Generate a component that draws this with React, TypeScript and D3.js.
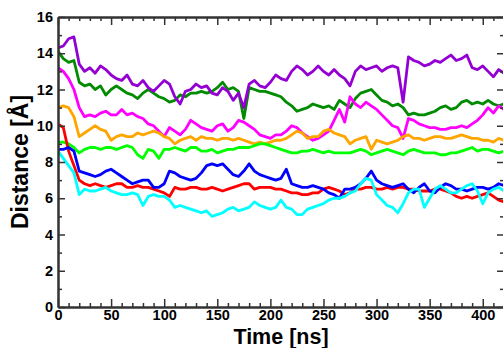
import React, { useEffect, useRef } from 'react';
import * as d3 from 'd3';

// time axis in ns, one reading every 5 ns
const time = d3.range(0, 421, 5);

const violet = [14.3, 14.4, 14.8, 14.9, 13.4, 13.0, 13.2, 12.9, 13.3, 13.1, 12.8, 12.6, 12.5, 12.8, 12.3, 12.2, 12.5, 12.1, 11.9, 12.2, 12.5, 12.3, 11.6, 11.2, 11.9, 12.0, 12.3, 12.1, 12.2, 11.8, 11.7, 12.1, 11.9, 11.4, 11.8, 11.0, 12.3, 12.5, 12.2, 12.1, 12.4, 12.8, 12.6, 12.5, 13.0, 13.3, 13.1, 12.8, 13.0, 13.3, 13.0, 12.8, 13.1, 12.8, 12.6, 12.2, 13.0, 13.3, 13.1, 13.2, 13.3, 13.0, 13.2, 13.3, 13.2, 11.3, 13.8, 13.6, 13.5, 13.3, 13.4, 13.6, 13.5, 13.7, 13.9, 13.6, 13.7, 13.9, 13.2, 13.1, 13.3, 13.0, 12.7, 13.1, 12.9];
const green4 = [14.1, 13.7, 13.5, 13.6, 12.4, 12.2, 12.3, 12.0, 12.2, 11.7, 12.0, 12.2, 12.0, 11.8, 11.7, 11.5, 11.8, 12.0, 11.8, 11.6, 11.5, 11.3, 11.4, 11.7, 11.6, 11.8, 11.8, 11.9, 11.8, 11.9, 12.1, 12.4, 12.0, 12.1, 11.9, 10.4, 12.1, 12.0, 11.9, 11.9, 11.8, 11.7, 11.6, 11.3, 11.1, 10.8, 10.9, 11.0, 11.2, 11.1, 11.0, 11.1, 10.9, 11.4, 11.2, 11.0, 11.5, 11.8, 11.9, 12.0, 11.7, 11.4, 11.3, 11.1, 11.2, 11.0, 10.6, 10.7, 10.6, 10.6, 10.7, 10.8, 11.0, 11.1, 10.9, 11.0, 11.3, 11.4, 11.2, 11.3, 11.2, 11.4, 11.2, 11.1, 11.2];
const magenta = [13.2, 13.0, 12.6, 12.0, 11.0, 10.5, 10.6, 10.5, 10.7, 10.8, 10.6, 10.6, 10.9, 10.6, 10.7, 10.5, 10.4, 10.1, 10.0, 9.7, 9.4, 9.9, 9.7, 9.5, 9.8, 10.3, 10.1, 9.9, 9.8, 9.7, 10.0, 10.1, 9.7, 9.9, 10.3, 10.2, 10.0, 9.8, 9.5, 9.4, 9.3, 9.5, 9.5, 9.7, 10.0, 9.9, 9.6, 9.4, 9.2, 9.3, 9.5, 9.7, 10.3, 10.9, 10.2, 11.6, 11.2, 11.0, 11.3, 11.1, 10.9, 10.6, 10.3, 10.0, 9.9, 9.3, 10.4, 10.3, 10.1, 10.0, 9.9, 9.9, 9.8, 9.8, 9.9, 9.9, 10.0, 9.9, 10.1, 10.3, 10.6, 11.0, 10.7, 11.1, 10.9];
const orange = [11.0, 11.1, 11.0, 10.5, 9.4, 9.6, 9.8, 10.0, 9.8, 9.7, 9.2, 9.4, 9.5, 9.4, 9.4, 9.6, 9.5, 9.6, 9.7, 9.6, 9.4, 9.3, 9.0, 9.2, 9.3, 9.4, 9.2, 9.4, 9.3, 9.3, 9.2, 9.3, 9.3, 9.2, 9.3, 9.2, 9.1, 9.0, 9.1, 9.0, 9.1, 9.2, 9.2, 9.3, 9.5, 9.7, 9.6, 9.3, 9.4, 9.4, 9.7, 9.8, 9.6, 9.5, 9.4, 9.0, 9.2, 9.3, 9.4, 8.7, 9.2, 9.1, 9.0, 9.1, 9.2, 9.4, 9.5, 9.3, 9.3, 9.2, 9.3, 9.4, 9.4, 9.3, 9.3, 9.4, 9.5, 9.4, 9.3, 9.3, 9.2, 9.2, 9.1, 9.3, 9.2];
const lime = [9.1, 9.1, 9.0, 8.8, 8.5, 8.7, 8.8, 8.8, 8.7, 8.8, 8.8, 8.7, 8.8, 8.9, 8.8, 8.4, 8.2, 8.7, 8.6, 8.2, 8.7, 8.7, 8.8, 8.7, 8.6, 8.8, 8.8, 8.6, 8.6, 8.7, 8.5, 8.6, 8.7, 8.7, 8.8, 8.8, 8.8, 8.9, 9.0, 9.0, 8.9, 8.8, 8.7, 8.6, 8.5, 8.5, 8.6, 8.6, 8.7, 8.6, 8.5, 8.6, 8.5, 8.5, 8.5, 8.5, 8.6, 8.7, 8.6, 8.4, 8.5, 8.6, 8.7, 8.6, 8.5, 8.4, 8.6, 8.7, 8.6, 8.5, 8.5, 8.5, 8.4, 8.4, 8.5, 8.5, 8.6, 8.7, 8.8, 8.6, 8.7, 8.7, 8.6, 8.5, 8.6];
const red = [10.1, 9.9, 8.6, 7.8, 7.0, 6.8, 6.7, 6.8, 6.7, 6.6, 6.7, 6.8, 6.8, 6.6, 6.6, 6.7, 6.6, 6.6, 6.5, 6.4, 6.3, 6.1, 6.6, 6.5, 6.5, 6.6, 6.6, 6.5, 6.5, 6.6, 6.5, 6.4, 6.5, 6.6, 6.7, 6.8, 6.8, 6.5, 6.6, 6.6, 6.6, 6.5, 6.5, 6.4, 6.3, 6.3, 6.2, 6.2, 6.3, 6.3, 6.5, 6.6, 6.5, 6.4, 6.2, 6.3, 6.5, 6.5, 6.6, 6.6, 6.5, 6.5, 6.6, 6.5, 6.6, 6.6, 6.5, 6.5, 6.4, 6.4, 6.4, 6.5, 6.5, 6.4, 6.3, 6.1, 6.0, 6.1, 6.0, 6.1, 6.2, 6.3, 6.1, 5.9, 5.8];
const blue = [8.7, 8.7, 8.8, 8.6, 7.5, 7.4, 7.3, 7.2, 7.3, 7.5, 7.6, 7.4, 7.2, 7.0, 6.8, 6.9, 7.0, 7.0, 6.6, 6.6, 6.8, 7.5, 7.4, 7.2, 7.1, 7.0, 7.1, 7.4, 7.8, 7.9, 7.8, 7.9, 7.6, 7.3, 7.2, 7.5, 7.9, 7.5, 7.3, 7.2, 7.1, 7.0, 7.1, 7.6, 6.8, 6.7, 6.6, 6.6, 6.7, 6.6, 6.5, 6.3, 6.2, 6.0, 6.5, 6.5, 6.6, 6.8, 7.1, 7.5, 7.0, 6.8, 6.7, 6.6, 6.7, 6.8, 6.5, 6.3, 6.6, 6.8, 6.4, 6.3, 6.6, 6.8, 6.7, 6.5, 6.5, 6.4, 6.5, 6.6, 6.6, 6.5, 6.6, 6.8, 6.7];
const cyan = [8.6, 8.2, 7.8, 7.4, 6.2, 6.5, 6.4, 6.4, 6.5, 6.6, 6.4, 6.3, 6.2, 6.2, 6.3, 6.2, 5.6, 6.1, 6.2, 6.1, 6.1, 5.9, 5.5, 5.6, 5.5, 5.4, 5.3, 5.2, 5.3, 5.0, 5.1, 5.2, 5.4, 5.5, 5.3, 5.4, 5.5, 5.8, 5.6, 5.5, 5.4, 5.5, 5.9, 5.5, 5.4, 5.1, 5.1, 5.4, 5.5, 5.6, 5.7, 5.9, 6.0, 6.0, 6.1, 6.3, 6.4, 6.8, 7.1, 7.0, 6.2, 5.9, 5.6, 5.5, 5.2, 5.7, 6.3, 6.5, 6.5, 5.5, 6.0, 6.5, 6.7, 6.5, 6.3, 6.3, 6.5, 6.7, 6.8, 6.4, 5.7, 6.3, 6.5, 6.6, 6.4];

const series = [
  { values: green4, color: '#008b00' },
  { values: violet, color: '#9400d3' },
  { values: magenta, color: '#ff00ff' },
  { values: orange, color: '#ffa500' },
  { values: lime, color: '#00ff00' },
  { values: red, color: '#ff0000' },
  { values: blue, color: '#0000ff' },
  { values: cyan, color: '#00ffff' },
];

const xMajor = [0, 50, 100, 150, 200, 250, 300, 350, 400];
const yMajor = [0, 2, 4, 6, 8, 10, 12, 14, 16];

const W = 503, H = 348;
const left = 58, right = 504, top = 17, bottom = 307;

export default function App() {
  const ref = useRef<SVGGElement>(null);

  const x = d3.scaleLinear().domain([0, 420]).range([left, right]);
  const y = d3.scaleLinear().domain([0, 16]).range([bottom, top]);

  const line = d3.line<number>()
    .x((d, i) => x(time[i]))
    .y(d => y(d));

  useEffect(() => {
    const g = d3.select(ref.current);
    g.selectAll('*').remove();

    const xMinor = d3.range(0, 421, 10).filter(v => v % 50 !== 0);
    const yMinor = [1, 3, 5, 7, 9, 11, 13, 15];

    const style = (sel: any) => {
      sel.selectAll('.domain').attr('stroke', '#333').attr('stroke-width', 2);
      sel.selectAll('.tick line').attr('stroke', '#333').attr('stroke-width', 1.5);
      sel.selectAll('text')
        .attr('fill', '#000')
        .style('font-family', '"Liberation Sans", Arial, sans-serif')
        .style('font-weight', 'bold')
        .style('font-size', '14.5px');
    };

    // bottom
    g.append('g').attr('transform', `translate(0,${bottom})`)
      .call(d3.axisBottom(x).tickValues(xMajor).tickSize(-8).tickSizeOuter(0).tickPadding(3))
      .call(style);
    g.append('g').attr('transform', `translate(0,${bottom})`)
      .call(d3.axisBottom(x).tickValues(xMinor).tickSize(-4).tickSizeOuter(0).tickFormat(() => ''))
      .call(style);
    // top
    g.append('g').attr('transform', `translate(0,${top})`)
      .call(d3.axisTop(x).tickValues(xMajor).tickSize(-8).tickSizeOuter(0).tickFormat(() => ''))
      .call(style);
    g.append('g').attr('transform', `translate(0,${top})`)
      .call(d3.axisTop(x).tickValues(xMinor).tickSize(-4).tickSizeOuter(0).tickFormat(() => ''))
      .call(style);
    // left
    g.append('g').attr('transform', `translate(${left},0)`)
      .call(d3.axisLeft(y).tickValues(yMajor).tickSize(-7).tickSizeOuter(0).tickPadding(5))
      .call(style);
    g.append('g').attr('transform', `translate(${left},0)`)
      .call(d3.axisLeft(y).tickValues(yMinor).tickSize(-4).tickSizeOuter(0).tickFormat(() => ''))
      .call(style);
    // right
    g.append('g').attr('transform', `translate(${right},0)`)
      .call(d3.axisRight(y).tickValues(yMajor).tickSize(-7).tickSizeOuter(0).tickFormat(() => ''))
      .call(style);
    g.append('g').attr('transform', `translate(${right},0)`)
      .call(d3.axisRight(y).tickValues(yMinor).tickSize(-4).tickSizeOuter(0).tickFormat(() => ''))
      .call(style);
  }, []);

  const font = '"Liberation Sans", Arial, sans-serif';

  return (
    <svg width={W} height={H} style={{ position: 'absolute', left: 0, top: 0, background: '#fff' }}>
      <defs>
        <clipPath id="plot">
          <rect x={left} y={top} width={right - left} height={bottom - top} />
        </clipPath>
      </defs>
      <g clipPath="url(#plot)">
        {series.map((s, i) => (
          <path key={i} d={line(s.values) || ''} fill="none" stroke={s.color}
            strokeWidth={2.8} strokeLinejoin="round" />
        ))}
      </g>
      <g ref={ref} />
      <text x={(left + right) / 2} y={343.5} textAnchor="middle"
        style={{ fontFamily: font, fontWeight: 'bold', fontSize: 21.5 }}>Time [ns]</text>
      <text transform={`translate(28,${(top + bottom) / 2}) rotate(-90)`} textAnchor="middle"
        style={{ fontFamily: font, fontWeight: 'bold', fontSize: 23 }}>Distance [Å]</text>
    </svg>
  );
}
